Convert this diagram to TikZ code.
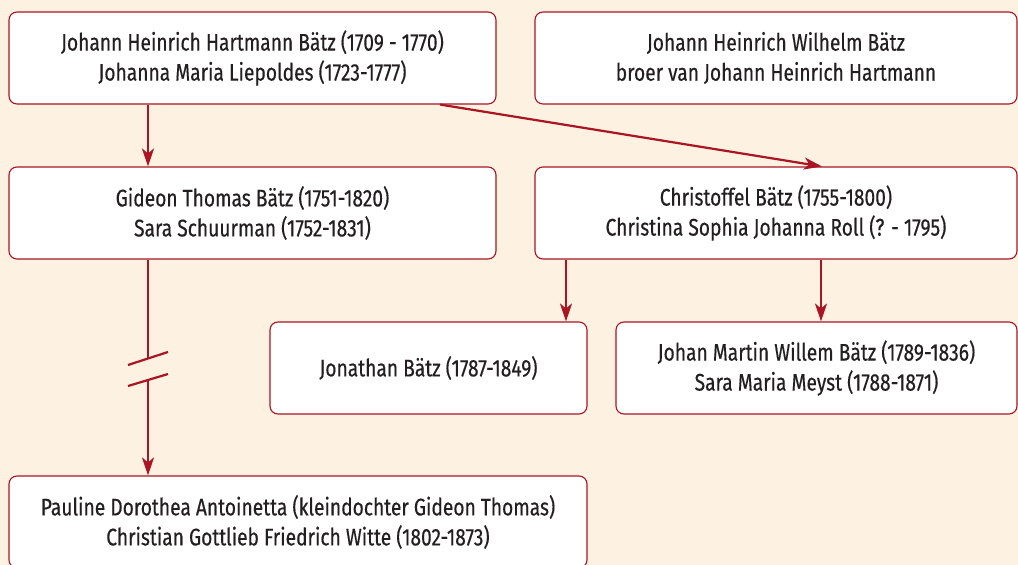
\documentclass[tikz,border=0pt]{standalone}
\usepackage{fontspec}
\setmainfont{Fira Sans}[FakeStretch=0.8,FakeBold=0.4]
\usetikzlibrary{arrows.meta}
\definecolor{bg}{RGB}{253,242,225}
\definecolor{dred}{RGB}{170,20,35}
\definecolor{txt}{RGB}{35,31,32}
\tikzset{
  box/.style={draw=dred, line width=1.1pt, fill=white, rounded corners=8pt,
    align=center, text=txt, inner sep=0pt, minimum height=92pt,
    font={\fontsize{24}{30}\selectfont}},
  conn/.style={draw=dred, line width=2.2pt},
  arr/.style={conn, -{Stealth[length=18pt,width=12pt,inset=5pt]}}
}
\begin{document}
\begin{tikzpicture}[x=1pt,y=-1pt]
\fill[bg] (0,0) rectangle (1018,565);
\useasboundingbox (0,0) rectangle (1018,565);
\node[box, minimum width=487pt] (A) at (252.5,58) {Johann Heinrich Hartmann Bätz (1709 - 1770)\\Johanna Maria Liepoldes (1723-1777)};
\node[box, minimum width=482pt] (B) at (776,58) {Johann Heinrich Wilhelm Bätz\\broer van Johann Heinrich Hartmann};
\node[box, minimum width=487pt] (C) at (252.5,213) {Gideon Thomas Bätz (1751-1820)\\Sara Schuurman (1752-1831)};
\node[box, minimum width=482pt] (D) at (776,213) {Christoffel Bätz (1755-1800)\\Christina Sophia Johanna Roll (? - 1795)};
\node[box, minimum width=317pt] (E) at (428.5,368) {Jonathan Bätz (1787-1849)};
\node[box, minimum width=401pt] (F) at (816.5,368) {Johan Martin Willem Bätz (1789-1836)\\Sara Maria Meyst (1788-1871)};
\node[box, minimum width=578pt] (G) at (298,522) {Pauline Dorothea Antoinetta (kleindochter Gideon Thomas)\\Christian Gottlieb Friedrich Witte (1802-1873)};
\draw[arr] ([xshift=-104.5pt]A.south) -- ([xshift=-104.5pt]C.north);
\draw[arr] ([xshift=187.5pt]A.south) -- ([xshift=46pt]D.north);
\draw[arr] ([xshift=-210pt]D.south) -- ([xshift=137.5pt]E.north);
\draw[arr] ([xshift=45pt]D.south) -- ([xshift=4.5pt]F.north);
\coordinate (b1) at (148,358.5);
\coordinate (b2) at (148,380);
\coordinate (s1a) at (128,365);
\coordinate (s1b) at (168,352);
\coordinate (s2a) at (128,386);
\coordinate (s2b) at (168,374);
\draw[conn] ([xshift=-104.5pt]C.south) -- (b1);
\draw[arr] (b2) -- ([xshift=-150pt]G.north);
\draw[conn] (s1a) -- (s1b);
\draw[conn] (s2a) -- (s2b);
\end{tikzpicture}
\end{document}
